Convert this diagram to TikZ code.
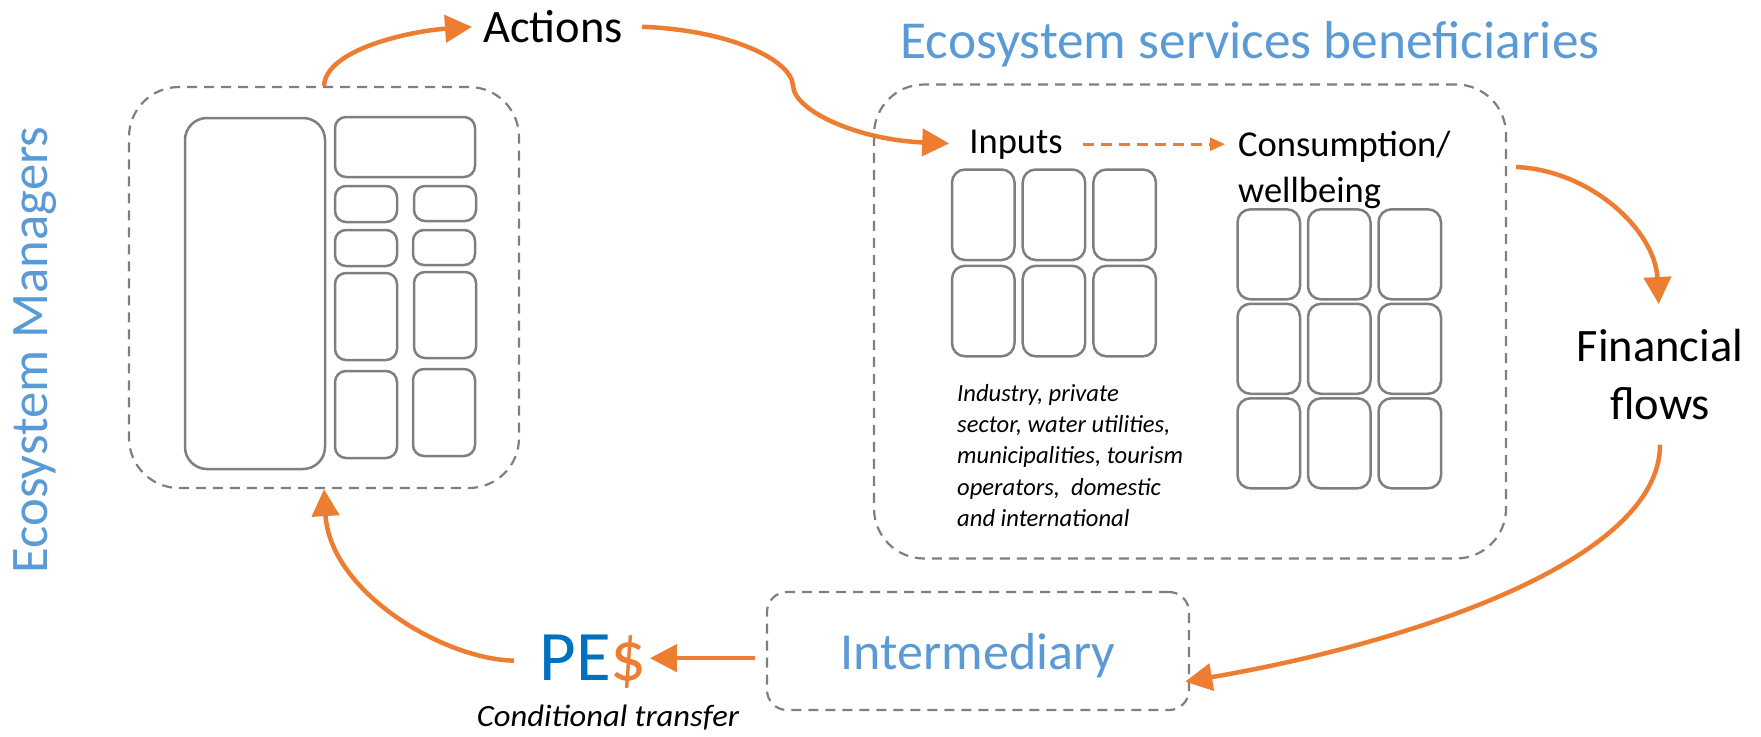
\documentclass[tikz,border=0pt]{standalone}
\usepackage{fontspec}
\setmainfont{Carlito}
\usepackage{tikz}
\usetikzlibrary{arrows.meta,positioning}

\definecolor{lineorange}{HTML}{ED7D31}
\definecolor{headblue}{HTML}{5B9BD5}
\definecolor{boxgray}{HTML}{7F7F7F}
\definecolor{pesblue}{HTML}{0070C0}

\begin{document}
\begin{tikzpicture}[
    x=1pt, y=-1pt,
    group/.style={draw=boxgray, line width=2.2pt, dash pattern=on 10pt off 7pt, rounded corners=50pt, inner sep=0pt},
    cell/.style={draw=boxgray, line width=2.5pt, rounded corners=11pt},
    flow/.style={-{Triangle[length=27pt,width=27pt]}, draw=lineorange, line width=4.5pt},
    heading/.style={text=headblue, font=\fontsize{52}{60}\selectfont, inner sep=0pt},
    plain/.style={inner sep=0pt, font=\fontsize{36.5}{45.7}\selectfont}
]
    \useasboundingbox (0,0) rectangle (1761,736);

    % groups
    \node[group, minimum width=390pt, minimum height=401pt] (managers) at (324,287.5) {};
    \node[group, minimum width=632pt, minimum height=474pt] (benef) at (1190,321.5) {};
    \node[group, rounded corners=20pt, minimum width=422pt, minimum height=118pt,
          heading, text depth=0pt] (inter) at (978,651) {Intermediary};

    % headings
    \node[heading, rotate=90, anchor=base, font=\fontsize{52.7}{60}\selectfont] (mgrlabel) at (47,350) {Ecosystem Managers};
    \node[heading, anchor=base, font=\fontsize{53.4}{60}\selectfont] (benlabel) at (1250,58) {Ecosystem services beneficiaries};

    % managers cells
    \draw[cell, rounded corners=22pt] (185,118) rectangle (325,469);
    \draw[cell] (335,117) rectangle (475,177);
    \draw[cell] (335,186) rectangle (397,222);
    \draw[cell] (414,186) rectangle (476,221);
    \draw[cell] (335,230) rectangle (397,266);
    \draw[cell] (413,230) rectangle (475,265);
    \draw[cell] (335,273) rectangle (397,360);
    \draw[cell] (414,272) rectangle (476,358);
    \draw[cell] (335,371) rectangle (397,458);
    \draw[cell] (413,369) rectangle (475,456);

    % beneficiaries cells
    \foreach \i in {0,1,2}
      \foreach \j in {0,1}
        \draw[cell, rounded corners=13pt] (952+70.7*\i,169.5+96.3*\j) rectangle ++(62.5,90.5);
    \foreach \i in {0,1,2}
      \foreach \j in {0,1,2}
        \draw[cell, rounded corners=13pt] (1237.5+70.5*\i,209.3+94.5*\j) rectangle ++(62.5,90);

    % texts
    \node[inner sep=0pt, anchor=base, font=\fontsize{46.5}{52}\selectfont] (actions) at (553,42) {Actions};
    \node[plain, anchor=base] (inputs) at (1016,153) {Inputs};
    \node[plain, anchor=north west, align=left] (consump) at (1238,131) {Consumption/\\wellbeing};
    \node[inner sep=0pt, anchor=north west, align=left, font=\fontsize{24.6}{31.3}\itshape\selectfont] (users) at (957,384)
        {Industry, private\\sector, water utilities,\\municipalities, tourism\\operators,~ domestic\\and international};
    \node[inner sep=0pt, anchor=north, align=center, font=\fontsize{46.5}{57.7}\selectfont] (fin) at (1660,329) {Financial\\flows};
    \node[inner sep=0pt, anchor=base, font=\fontsize{71}{80}\selectfont] (pes) at (593,680)
        {\textcolor{pesblue}{PE}\textcolor{lineorange}{\$}};
    \node[inner sep=0pt, anchor=base, font=\fontsize{31}{36}\itshape\selectfont] (cond) at (608,726)
        {\scalebox{1.05}[1]{Conditional transfer}};

    \coordinate (kink) at (793,86);
    \coordinate (ffstart) at (1516,167);

    % flows
    \draw[flow, shorten >=11pt] (managers.north) .. controls +(2,-37) and +(-72,5) .. (actions.west);
    \draw[flow, shorten <=19pt, shorten >=20pt] (actions.east) .. controls (730,30) and (792,60) .. (kink)
        .. controls (795,112) and (860,140) .. (inputs.west);
    \draw[-{Triangle[length=15pt,width=13pt]}, draw=lineorange, line width=2.6pt, dash pattern=on 11pt off 7pt,
          shorten <=20pt, shorten >=13pt] (inputs.east) -- (inputs.east -| consump.west);
    \draw[flow, shorten >=25pt] (ffstart) .. controls +(74,3) and +(-5,-99) .. (fin.north);
    \draw[flow, shorten <=25pt, shorten >=-5pt] (fin.south) .. controls +(0,143) and +(211,-36) .. (inter.-8);
    \draw[flow, shorten <=11pt, shorten >=3pt] ([yshift=3pt]inter.west |- pes.east) -- ([yshift=3pt]pes.east);
    \draw[flow, shorten <=25pt] (pes.west) .. controls +(-97,-2) and +(6,102) .. (managers.south);
\end{tikzpicture}
\end{document}
